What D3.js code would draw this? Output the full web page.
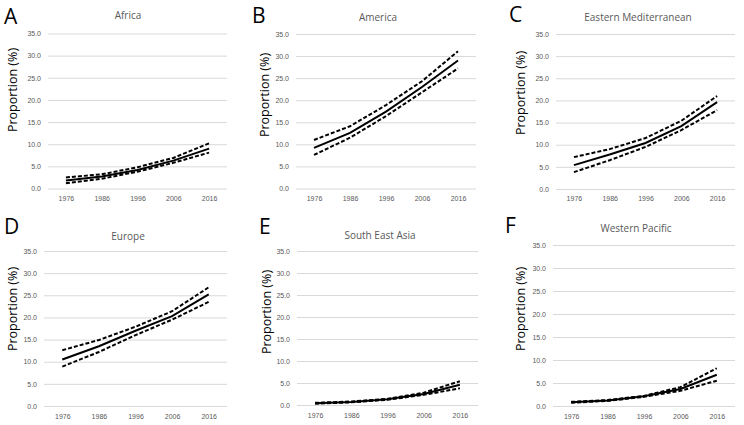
<!DOCTYPE html>
<html>
<head>
<meta charset="utf-8">
<script src="https://cdn.jsdelivr.net/npm/d3@7"></script>
<style>
  body { margin: 0; background: #fff; }
  svg { display: block; font-family: "Open Sans", "Noto Sans", sans-serif; }
</style>
</head>
<body>
<svg width="744" height="425"></svg>
<script>
var years = ["1976", "1986", "1996", "2006", "2016"];
var yTicks = [0, 5, 10, 15, 20, 25, 30, 35];

var regions = ["Africa", "America", "Eastern Mediterranean", "Europe", "South East Asia", "Western Pacific"];
var letters = ["A", "B", "C", "D", "E", "F"];

// point estimate, upper and lower bounds per region
var africaMean  = [1.8, 2.7, 4.2, 6.3, 9.0];
var africaUpper = [2.5, 3.2, 4.8, 6.9, 10.2];
var africaLower = [1.2, 2.2, 3.8, 5.8, 8.1];

var americaMean  = [9.2, 12.6, 17.4, 23.0, 29.0];
var americaUpper = [11.0, 14.1, 18.9, 24.3, 31.1];
var americaLower = [7.6, 11.5, 16.4, 21.8, 27.2];

var emroMean  = [5.4, 7.8, 10.4, 14.2, 19.6];
var emroUpper = [7.2, 9.0, 11.5, 15.4, 21.0];
var emroLower = [3.8, 6.5, 9.5, 13.3, 17.8];

var europeMean  = [10.5, 13.5, 17.0, 20.3, 25.2];
var europeUpper = [12.6, 14.9, 17.9, 21.4, 26.8];
var europeLower = [8.9, 12.2, 16.0, 19.5, 23.5];

var seaMean  = [0.4, 0.7, 1.3, 2.5, 4.6];
var seaUpper = [0.5, 0.8, 1.4, 2.8, 5.4];
var seaLower = [0.3, 0.6, 1.2, 2.3, 3.8];

var wpacMean  = [0.8, 1.2, 2.1, 3.7, 6.8];
var wpacUpper = [0.9, 1.3, 2.2, 4.1, 8.2];
var wpacLower = [0.7, 1.1, 2.0, 3.3, 5.5];

var means  = [africaMean, americaMean, emroMean, europeMean, seaMean, wpacMean];
var uppers = [africaUpper, americaUpper, emroUpper, europeUpper, seaUpper, wpacUpper];
var lowers = [africaLower, americaLower, emroLower, europeLower, seaLower, wpacLower];

// panel layout: plot box, title, panel letter and axis label positions
var layout = [
  {x0: 48,  x1: 227, yTop: 33.5, yBot: 188.5, tx: 128, ty: 19,  lx: 4,   ly: 24,  ax: 13,  ay: 90,  xl: 199},
  {x0: 296, x1: 476, yTop: 34,   yBot: 188.5, tx: 378, ty: 21,  lx: 252, ly: 23,  ax: 265, ay: 95,  xl: 199},
  {x0: 556, x1: 735, yTop: 34,   yBot: 189,   tx: 638, ty: 21,  lx: 509, ly: 22,  ax: 521, ay: 93,  xl: 199},
  {x0: 44,  x1: 227, yTop: 251,  yBot: 406,   tx: 128, ty: 240, lx: 4,   ly: 234, ax: 13,  ay: 309, xl: 417},
  {x0: 297, x1: 478, yTop: 251,  yBot: 405,   tx: 380, ty: 239, lx: 259, ly: 234, ax: 267, ay: 312, xl: 416},
  {x0: 553, x1: 735, yTop: 245,  yBot: 406,   tx: 636, ty: 232, lx: 505, ly: 233, ax: 521, ay: 309, xl: 417}
];

var svg = d3.select("svg");

regions.forEach(function(name, i) {
  var L = layout[i];
  var g = svg.append("g");

  var x = d3.scalePoint().domain(years).range([L.x0, L.x1]).padding(0.5);
  var y = d3.scaleLinear().domain([0, 35]).range([L.yBot, L.yTop]);

  // gridlines + y tick labels
  var yAxis = d3.axisLeft(y).tickValues(yTicks).tickSize(-(L.x1 - L.x0)).tickPadding(7)
      .tickFormat(d3.format(".1f"));
  g.append("g")
      .attr("transform", "translate(" + L.x0 + ",0)")
      .call(yAxis)
      .call(function(a) {
        a.select(".domain").remove();
        a.selectAll(".tick line").attr("stroke", "#d9d9d9").attr("stroke-width", 1);
        a.selectAll(".tick text").attr("fill", "#595959").style("font-size", "7px");
      });

  // x labels
  var xAxis = d3.axisBottom(x).tickSize(0).tickPadding(0);
  g.append("g")
      .attr("transform", "translate(0," + (L.xl - 3) + ")")
      .call(xAxis)
      .call(function(a) {
        a.select(".domain").remove();
        a.selectAll(".tick text").attr("fill", "#595959").style("font-size", "7px");
      });

  var line = d3.line()
      .x(function(d, j) { return x(years[j]); })
      .y(function(d) { return y(d); });

  [uppers[i], lowers[i]].forEach(function(s) {
    g.append("path")
        .datum(s)
        .attr("d", line)
        .attr("fill", "none")
        .attr("stroke", "#000")
        .attr("stroke-width", 2)
        .attr("stroke-dasharray", "4,2");
  });
  g.append("path")
      .datum(means[i])
      .attr("d", line)
      .attr("fill", "none")
      .attr("stroke", "#000")
      .attr("stroke-width", 2);

  g.append("text")
      .attr("x", L.tx).attr("y", L.ty)
      .attr("text-anchor", "middle")
      .attr("fill", "#595959")
      .style("font-size", "10px")
      .text(name);

  g.append("text")
      .attr("x", L.lx).attr("y", L.ly)
      .style("font-size", "21px")
      .attr("fill", "#000")
      .text(letters[i]);

  g.append("text")
      .attr("transform", "translate(" + (L.ax + 4) + "," + L.ay + ") rotate(-90)")
      .attr("text-anchor", "middle")
      .style("font-size", "12.5px")
      .attr("fill", "#000")
      .text("Proportion (%)");
});
</script>
</body>
</html>
